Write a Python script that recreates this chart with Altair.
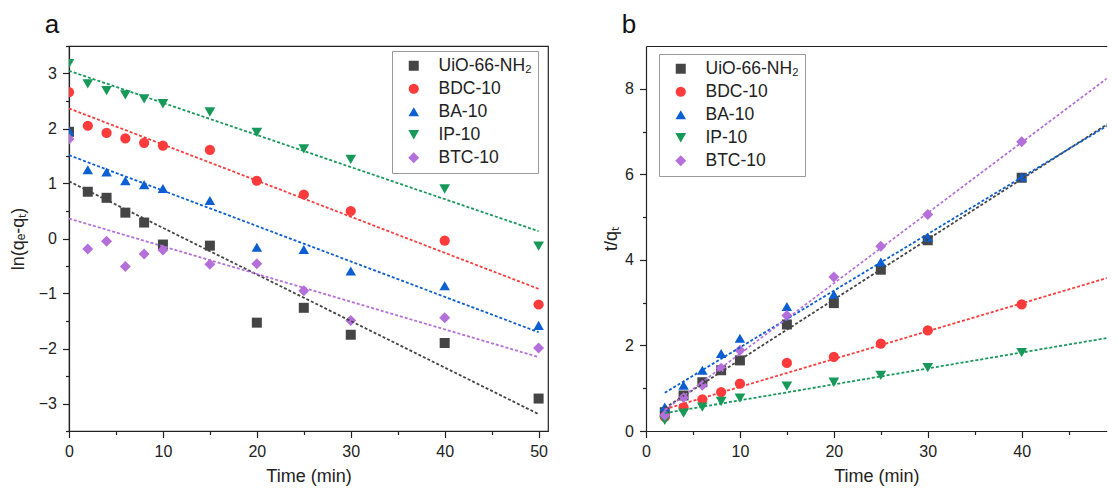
import altair as alt
import pandas as pd

# ---------------- data ----------------
series_names = ["UiO-66-NH₂", "BDC-10", "BA-10", "IP-10", "BTC-10"]
series_colors = ["#454545", "#ff3b3b", "#0c5fd2", "#17995a", "#b46fdb"]
series_shapes = ["square", "circle", "triangle-up", "triangle-down", "diamond"]
series_sizes = [100, 120, 140, 140, 130]

# panel a : pseudo-first-order, ln(qe-qt) vs time
time_a = [0, 2, 4, 6, 8, 10, 15, 20, 25, 30, 40, 50]
uio_a = [1.94, 0.85, 0.74, 0.47, 0.29, -0.11, -0.13, -1.53, -1.26, -1.75, -1.90, -2.91]
bdc_a = [2.66, 2.05, 1.92, 1.82, 1.74, 1.69, 1.61, 1.05, 0.80, 0.50, -0.04, -1.20]
ba_a = [1.96, 1.25, 1.21, 1.05, 0.98, 0.91, 0.69, -0.16, -0.20, -0.59, -0.86, -1.58]
ip_a = [3.18, 2.81, 2.69, 2.61, 2.54, 2.45, 2.30, 1.93, 1.63, 1.44, 0.90, -0.14]
btc_a = [1.81, -0.19, -0.05, -0.51, -0.28, -0.21, -0.47, -0.46, -0.95, -1.49, -1.44, -1.99]

# panel b : pseudo-second-order, t/qt vs time
time_b = [2, 4, 6, 8, 10, 15, 20, 25, 30, 40, 50]
uio_b = [0.44, 0.83, 1.14, 1.42, 1.65, 2.49, 2.99, 3.77, 4.46, 5.92, 7.28]
bdc_b = [0.33, 0.55, 0.74, 0.91, 1.11, 1.59, 1.73, 2.04, 2.35, 2.96, 3.54]
ba_b = [0.56, 1.07, 1.42, 1.81, 2.17, 2.91, 3.19, 3.95, 4.53, 5.94, 7.19]
ip_b = [0.25, 0.42, 0.56, 0.69, 0.77, 1.05, 1.14, 1.30, 1.48, 1.83, 2.12]
btc_b = [0.37, 0.78, 1.07, 1.47, 1.89, 2.70, 3.60, 4.32, 5.06, 6.76, 8.30]

# tick positions
x_major = [0, 10, 20, 30, 40, 50]
x_minor = [5, 15, 25, 35, 45]
y_major_a = [-3, -2, -1, 0, 1, 2, 3]
y_minor_a = [-3.5, -2.5, -1.5, -0.5, 0.5, 1.5, 2.5, 3.5]
y_major_b = [0, 2, 4, 6, 8]
y_minor_b = [1, 3, 5, 7]

# axis ranges (panel b is cut by the right edge of the figure, as in the original)
x_range_a = [0, 51]
x_range_b = [0, 49.05]

FONT = "Liberation Sans"
INK = "#222222"
PX_PER_MIN = 479 / 51.0


def build_df(times, series_values):
    rows = []
    for name, ys in zip(series_names, series_values):
        for t, v in zip(times, ys):
            rows.append({"series": name, "t": t, "v": v})
    return pd.DataFrame(rows)


df_a = build_df(time_a, [uio_a, bdc_a, ba_a, ip_a, btc_a])
df_b = build_df(time_b, [uio_b, bdc_b, ba_b, ip_b, btc_b])


def panel(df, xrange_, ydomain, ymajor, yminor, ytitle, ytitle_pad, letter,
          leg_x, leg_y, extent=None, open_right=False):
    leg = alt.Legend(
        title=None, orient="none", legendX=leg_x, legendY=leg_y,
        strokeColor="#999999", fillColor="white", padding=6,
        labelFont=FONT, labelFontSize=17.5, labelColor=INK, labelLimit=400,
        symbolSize=85, symbolStrokeWidth=0, symbolOpacity=1,
        rowPadding=4, labelOffset=16, symbolOffset=7,
    )
    xscale = alt.Scale(domain=xrange_, nice=False, zero=False)
    yscale = alt.Scale(domain=ydomain, nice=False, zero=False)
    xenc = alt.X(
        "t:Q", scale=xscale,
        axis=alt.Axis(values=x_major, title="Time (min)", titlePadding=8,
                      labelFlush=False, labelOverlap=False, tickSize=6.5,
                      orient="bottom"),
    )
    yenc = alt.Y(
        "v:Q", scale=yscale,
        axis=alt.Axis(values=ymajor, title=ytitle, titlePadding=ytitle_pad,
                      labelFlush=False, labelOverlap=False, tickSize=6.5,
                      orient="left"),
    )
    color_scale = alt.Scale(domain=series_names, range=series_colors)
    points = alt.Chart(df).mark_point(filled=True, opacity=1, clip=True).encode(
        x=xenc,
        y=yenc,
        color=alt.Color("series:N", scale=color_scale, legend=leg),
        shape=alt.Shape("series:N",
                        scale=alt.Scale(domain=series_names, range=series_shapes),
                        legend=leg),
        size=alt.Size("series:N",
                      scale=alt.Scale(domain=series_names, range=series_sizes),
                      legend=None),
    )
    # invisible layer that only carries the minor-tick axes
    minor = alt.Chart(df).mark_point(opacity=0, clip=True).encode(
        x=alt.X("t:Q", axis=alt.Axis(values=x_minor, labels=False, tickSize=3.5,
                                     domain=False, title=None, orient="bottom")),
        y=alt.Y("v:Q", axis=alt.Axis(values=yminor, labels=False, tickSize=3.5,
                                     domain=False, title=None, orient="left")),
    )
    reg_kwargs = {"groupby": ["series"]}
    if extent is not None:
        reg_kwargs["extent"] = extent
    lines = alt.Chart(df).transform_regression("t", "v", **reg_kwargs).mark_line(
        strokeDash=[3, 2], strokeWidth=1.8, clip=True
    ).encode(
        x=alt.X("t:Q", axis=None),
        y=alt.Y("v:Q", axis=None),
        color=alt.Color("series:N", scale=color_scale, legend=None),
        detail="series:N",
    )
    label = alt.Chart(pd.DataFrame({"txt": [letter]})).mark_text(
        font=FONT, fontSize=26, align="center", baseline="alphabetic", color="#111111"
    ).encode(x=alt.value(-17), y=alt.value(-13.5), text="txt:N")
    layers = [points, minor, lines, label]
    if open_right:
        # top frame line only (the right side runs off the figure)
        top = alt.Chart(df).mark_point(opacity=0, clip=True).encode(
            x=alt.X("t:Q", axis=alt.Axis(orient="top", labels=False, ticks=False,
                                         domain=True, title=None)),
            y=alt.Y("v:Q", axis=None),
        )
        layers.append(top)
    width = (xrange_[1] - xrange_[0]) * PX_PER_MIN
    ch = alt.layer(*layers).resolve_axis(
        x="independent", y="independent"
    ).properties(width=width, height=385)
    if open_right:
        ch = ch.properties(view=alt.ViewBackground(stroke="transparent"))
    return ch


left = panel(df_a, x_range_a, [-3.5, 3.5], y_major_a, y_minor_a,
             "ln(qₑ-qₜ)", 11, "a", 323, 5, extent=[0, 50])
right = panel(df_b, x_range_b, [0, 9], y_major_b, y_minor_b,
              "t/qₜ", 4, "b", 13, 8, open_right=True)

chart = alt.hconcat(left, right, spacing=53).resolve_legend(
    color="independent", shape="independent", size="independent"
).properties(
    padding={"left": 0, "top": 2, "right": 0, "bottom": 0}
).configure_view(
    stroke=INK, strokeWidth=1.2
).configure_axis(
    grid=False, domainColor=INK, domainWidth=1.2, tickColor=INK, tickWidth=1.2,
    labelFont=FONT, labelFontSize=16, labelColor=INK, labelPadding=6,
    titleFont=FONT, titleFontSize=18, titleFontWeight="normal", titleColor=INK,
)

chart.save("out.html", embed_options={"renderer": "svg", "actions": False})
